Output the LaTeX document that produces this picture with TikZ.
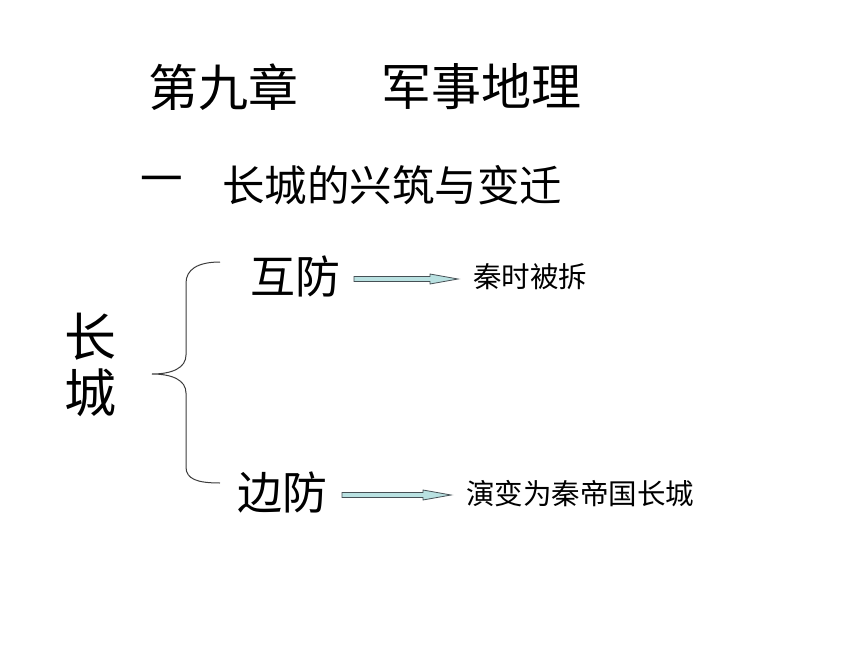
\documentclass[tikz,border=0pt]{standalone}
\usepackage{fontspec}
\newfontfamily\cjk{Noto Sans CJK SC}
\usetikzlibrary{calc}
\definecolor{arrowfill}{RGB}{185,225,225}
\definecolor{arrowline}{RGB}{70,80,85}
\definecolor{bracecol}{RGB}{60,60,60}
\newcommand{\fatarrowdraw}[2]{%
  \filldraw[fatarrow] let \p1=(#1), \p2=(#2) in
    (\x1,\y1+2.5pt) -- (\x2-28pt,\y1+2.5pt) -- (\x2-28pt,\y1+5pt) -- (\x2,\y1)
    -- (\x2-28pt,\y1-5pt) -- (\x2-28pt,\y1-2.5pt) -- (\x1,\y1-2.5pt) -- cycle;}
\begin{document}
\begin{tikzpicture}[x=1pt,y=-1pt,
  txt/.style={inner sep=0pt, outer sep=0pt, text=black, font=\cjk\fontsize{#1}{#1}\selectfont},
  title/.style={txt=50},
  sub/.style={txt=42.5},
  mid/.style={txt=45},
  lab/.style={txt=28.5},
  big/.style={inner sep=0pt, align=center, font=\cjk\fontsize{52}{56}\selectfont},
  bracestyle/.style={draw=bracecol, line width=1pt},
  fatarrow/.style={draw=arrowline, fill=arrowfill, line width=0.8pt, line join=miter}]
\fill[white] (0,0) rectangle (860,645);
\useasboundingbox (0,0) rectangle (860,645);

\node[title] (t1) at (223,87) {第九章};
\node[title] (t2) at (481,87) {军事地理};
\node[sub] (s1) at (162,185) {一};
\node[sub] (s2) at (392,185) {长城的兴筑与变迁};
\node[big] (cc) at (90,365) {长\\城};
\node[mid] (hu) at (295,276) {互防};
\node[mid] (bian) at (282,492) {边防};
\node[lab] (qin) at (530,277) {秦时被拆};
\node[lab] (yan) at (580,494) {演变为秦帝国长城};

% brace
\draw[bracestyle] (220,262) .. controls (197,262) and (186,270) .. (186,283)
  -- (186,355) .. controls (186,368) and (172,374) .. (152,374)
  .. controls (172,374) and (186,380) .. (186,393)
  -- (186,467) .. controls (186,479) and (197,483) .. (220,483);

% arrows
\coordinate (a1s) at ($(hu.east)+(14,3)$);
\coordinate (a1e) at ($(qin.west)+(-15,2)$);
\coordinate (a2s) at ($(bian.east)+(15,3)$);
\coordinate (a2e) at ($(yan.west)+(-15,1)$);
\fatarrowdraw{a1s}{a1e}
\fatarrowdraw{a2s}{a2e}
\end{tikzpicture}
\end{document}
